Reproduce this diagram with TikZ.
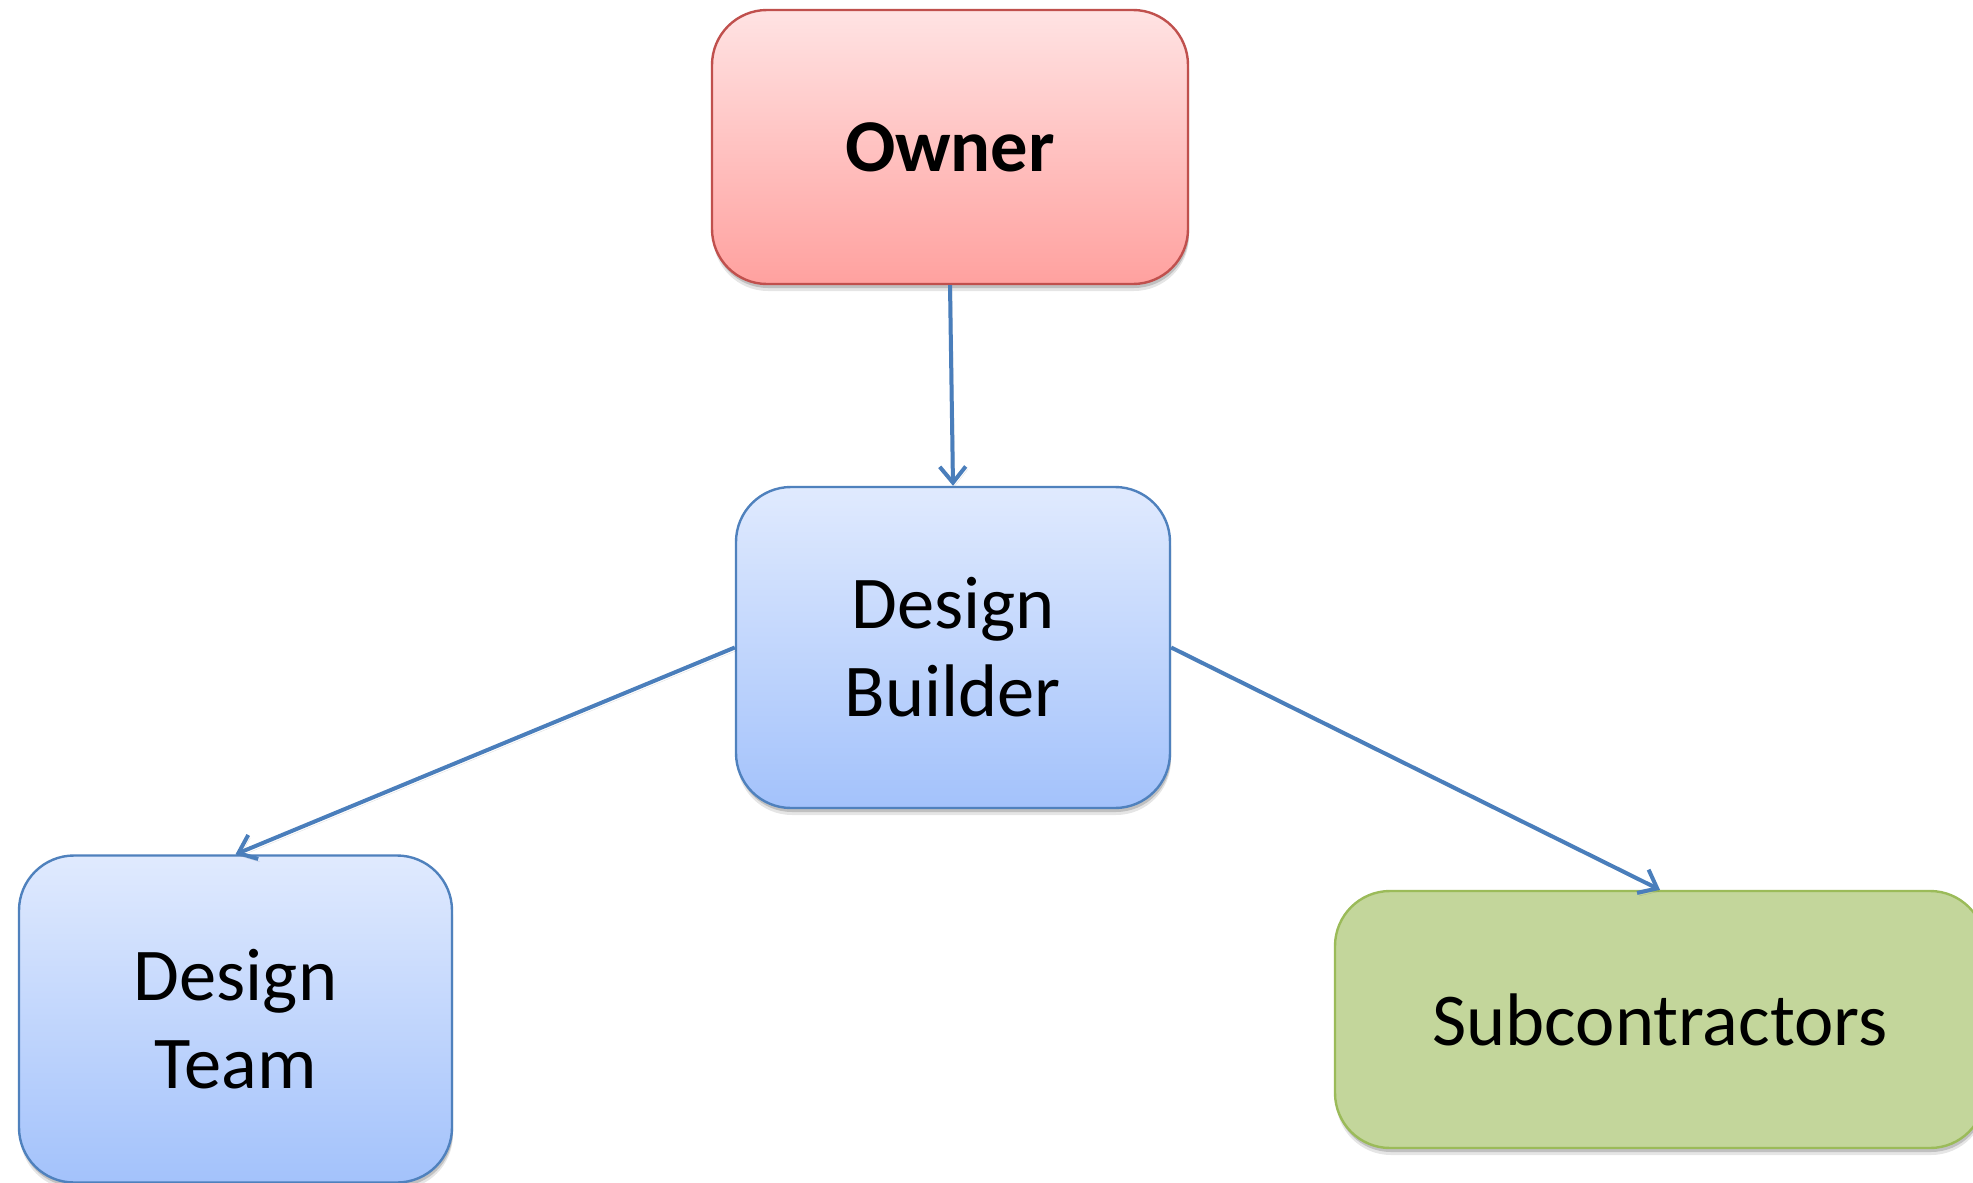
\documentclass[tikz,border=0pt]{standalone}
\usepackage{fontspec}
\setmainfont{Carlito}
\usetikzlibrary{arrows.meta,shadows}
\definecolor{linkblue}{HTML}{4A7EBB}
\definecolor{redtop}{HTML}{FFE3E3}
\definecolor{redbot}{HTML}{FFA19F}
\definecolor{redline}{HTML}{C0504D}
\definecolor{bluetop}{HTML}{E0EAFE}
\definecolor{bluebot}{HTML}{A3C2FB}
\definecolor{blueline}{HTML}{4F81BD}
\definecolor{greenfill}{HTML}{C3D69B}
\definecolor{greenline}{HTML}{9BBB59}
\tikzset{
  box/.style={rectangle, rounded corners=55pt, line width=2.4pt, align=center,
    font=\fontsize{74.5}{88}\selectfont, inner sep=0pt,
    drop shadow={shadow xshift=1pt, shadow yshift=-7pt, opacity=0.10, fill=black},
    drop shadow={shadow xshift=1pt, shadow yshift=-4pt, opacity=0.16, fill=black}},
  ownerbox/.style={box, draw=redline, top color=redtop, bottom color=redbot,
    font=\fontsize{74.5}{88}\selectfont\bfseries},
  bluebox/.style={box, draw=blueline, top color=bluetop, bottom color=bluebot},
  greenbox/.style={box, draw=greenline, fill=greenfill},
  link/.style={draw=linkblue, line width=4pt,
    -{Straight Barb[length=16pt,width=26pt,line width=4pt]},
    preaction={draw=black, opacity=0.12, transform canvas={shift={(2pt,-3pt)}}}}
}
\begin{document}
\begin{tikzpicture}[x=1pt,y=-1pt]
  \path[use as bounding box, clip] (0,0) rectangle (1973,1183);
  \fill[white] (0,0) rectangle (1973,1183);

  \node[ownerbox, minimum width=476pt, minimum height=274pt] (owner) at (950,147) {Owner};
  \node[bluebox, minimum width=434pt, minimum height=321pt] (builder) at (953,647.5) {Design\\Builder};
  \node[bluebox, minimum width=433pt, minimum height=327pt] (team) at (235.5,1019) {Design\\Team};
  \node[greenbox, minimum width=650pt, minimum height=257pt] (subs) at (1660,1019.5) {Subcontractors};

  \draw[link] (owner.south) -- (builder.north);
  \draw[link] (builder.west) -- (team.north);
  \draw[link] (builder.east) -- (subs.north);
\end{tikzpicture}
\end{document}
